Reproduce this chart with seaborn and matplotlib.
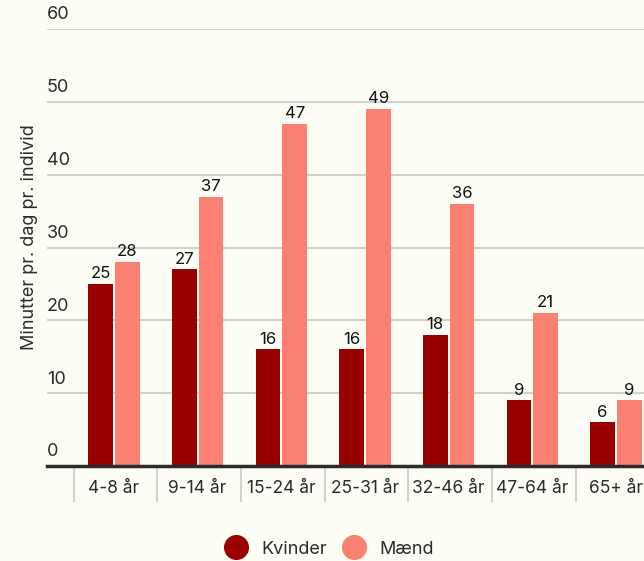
import matplotlib
matplotlib.use("Agg")
import matplotlib.pyplot as plt
from matplotlib.lines import Line2D
from matplotlib.transforms import blended_transform_factory, offset_copy
import seaborn as sns
import pandas as pd
import numpy as np

# data
age_groups = ["4-8 år", "9-14 år", "15-24 år", "25-31 år", "32-46 år", "47-64 år", "65+ år"]
kvinder = [25, 27, 16, 16, 18, 9, 6]
maend = [28, 37, 47, 49, 36, 21, 9]
series = ["Kvinder", "Mænd"]
colors = {"Kvinder": "#990000", "Mænd": "#fa8072"}
y_ticks = [0, 10, 20, 30, 40, 50, 60]

BG = "#fdfdf5"
TEXT = "#2b2b2b"

df = pd.DataFrame({
    "alder": age_groups * 2,
    "minutter": kvinder + maend,
    "koen": ["Kvinder"] * len(age_groups) + ["Mænd"] * len(age_groups),
})

sns.set_theme(style="white")
plt.rcParams["font.family"] = ["Inter", "DejaVu Sans"]

fig = plt.figure(figsize=(6.44, 5.61), dpi=100, facecolor=BG)
ax = fig.add_axes([0.073, 0.1693, 0.964, 0.779], facecolor=BG)

sns.barplot(data=df, x="alder", y="minutter", hue="koen", hue_order=series,
            palette=colors, width=0.64, gap=0.08, saturation=1,
            order=age_groups, ax=ax, legend=False, linewidth=0)

ax.set_xlim(-0.80, 6.62)
ax.set_ylim(0, 60)

# gridlines + y labels sitting above them
ax.set_yticks(y_ticks)
ax.yaxis.grid(True, color="#d2d2ca", linewidth=1.5)
ax.set_axisbelow(True)
ax.tick_params(axis="y", length=0, labelleft=False)
tr = offset_copy(blended_transform_factory(ax.transAxes, ax.transData), fig=fig, x=0, y=4, units="points")
for v in y_ticks:
    ax.text(0, v, str(v), transform=tr, ha="left", va="bottom", fontsize=13, color=TEXT)

for s in ["top", "right", "left"]:
    ax.spines[s].set_visible(False)
ax.spines["bottom"].set_color("#2b2b2b")
ax.spines["bottom"].set_linewidth(2.5)

# category labels + separators between them
ax.set_xticks(range(len(age_groups)))
ax.set_xticklabels(age_groups)
ax.tick_params(axis="x", which="major", bottom=True, length=0, pad=10, labelsize=12.5, labelcolor=TEXT)
ax.set_xticks(np.arange(len(age_groups)) - 0.48, minor=True)
ax.tick_params(axis="x", which="minor", bottom=True, length=26, width=1.5, color="#d2d2ca", direction="out")

ax.set_xlabel("")
ax.set_ylabel("Minutter pr. dag pr. individ", fontsize=13, color=TEXT)
ax.yaxis.set_label_coords(-0.015, 0.524)

# value labels
for cont in ax.containers:
    ax.bar_label(cont, padding=2, fontsize=12, color="#111111")

handles = [Line2D([], [], marker="o", linestyle="", markersize=17,
                  markerfacecolor=colors[s], markeredgecolor=colors[s]) for s in series]
fig.legend(handles, series, loc="center", bbox_to_anchor=(0.506, 0.021), ncol=2,
           frameon=False, fontsize=13, handletextpad=0.4, columnspacing=0.5, labelcolor=TEXT)

fig.savefig("out.png", dpi=100, facecolor=BG)
